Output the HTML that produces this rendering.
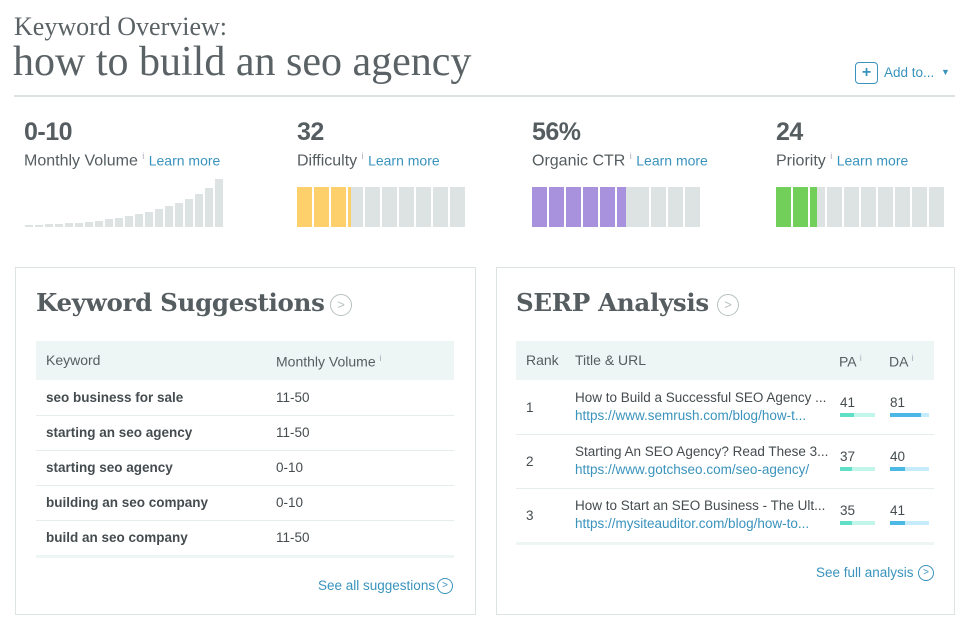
<!DOCTYPE html>
<html><head><meta charset="utf-8"><style>
*{margin:0;padding:0;box-sizing:border-box}
body{width:971px;height:628px;background:#fff;position:relative;overflow:hidden;font-family:"Liberation Sans",sans-serif;color:#555d60}
.a{position:absolute;white-space:nowrap}
.slab{font-family:"Liberation Serif",serif}
.big{font-size:25px;font-weight:bold;color:#555d60;letter-spacing:-0.5px}
.lbl{font-size:16px;color:#555d60}
.lm{font-size:14px;color:#3a93bd}
.i{font-size:9px;color:#aab}
.seg{position:absolute;top:187px;width:15px;height:40px;background:#dde3e2}
.vb{position:absolute;width:8px;background:#dde3e2;bottom:401px}
.card{position:absolute;border:1px solid #dde3e2;top:267px;height:348px}
.h2{font-family:"DejaVu Serif",serif;font-weight:bold;font-size:24.5px;color:#555d60;letter-spacing:-0.3px}
.circ{position:absolute;border:1.5px solid #b8c0c0;border-radius:50%;width:22px;height:22px;color:#b8c0c0;font-size:13px;text-align:center;line-height:19px}
.thead{position:absolute;background:#eef6f5;height:39px}
.th{font-size:14px;color:#555d60}
.td{font-size:13.5px;color:#454c4f}
.kw{font-size:13.5px;color:#454c4f;font-weight:bold}
.sep{position:absolute;height:1px;background:#e6eeed}
.link{font-size:13.5px;color:#3a93bd}
.c2{position:absolute;border:1.5px solid #3a93bd;border-radius:50%;width:16px;height:16px;color:#3a93bd;font-size:10px;text-align:center;line-height:13px}
</style></head><body>
<div class="a slab" style="left:14px;top:12px;font-size:26px;color:#5a6265">Keyword Overview:</div>
<div class="a slab" style="left:13px;top:38px;font-size:42px;color:#5a6265">how to build an seo agency</div>
<div class="a" style="left:855px;top:62px;width:23px;height:22px;border:1.5px solid #3a93bd;border-radius:4px;color:#3a93bd;font-weight:bold;font-size:16px;text-align:center;line-height:19px">+</div>
<div class="a" style="left:884px;top:65px;font-size:13.5px;color:#3a93bd">Add to...</div>
<div class="a" style="left:941px;top:67px;font-size:9px;color:#3a93bd">▼</div>
<div class="a" style="left:14px;top:95px;width:941px;height:2px;background:#dbe2e1"></div>

<div class="a big" style="left:24px;top:118px">0-10</div>
<div class="a lbl" style="left:24px;top:151px">Monthly Volume <sup class="i">i</sup> <span class="lm">Learn more</span></div>
<div class="a big" style="left:297px;top:118px">32</div>
<div class="a lbl" style="left:297px;top:151px">Difficulty <sup class="i">i</sup> <span class="lm">Learn more</span></div>
<div class="a big" style="left:532px;top:118px">56%</div>
<div class="a lbl" style="left:532px;top:151px">Organic CTR <sup class="i">i</sup> <span class="lm">Learn more</span></div>
<div class="a big" style="left:776px;top:118px">24</div>
<div class="a lbl" style="left:776px;top:151px">Priority <sup class="i">i</sup> <span class="lm">Learn more</span></div>

<div class="vb" style="left:25px;height:2px"></div><div class="vb" style="left:35px;height:2px"></div><div class="vb" style="left:45px;height:3px"></div><div class="vb" style="left:55px;height:3px"></div><div class="vb" style="left:65px;height:4px"></div><div class="vb" style="left:75px;height:4px"></div><div class="vb" style="left:85px;height:5px"></div><div class="vb" style="left:95px;height:6px"></div><div class="vb" style="left:105px;height:8px"></div><div class="vb" style="left:115px;height:9px"></div><div class="vb" style="left:125px;height:11px"></div><div class="vb" style="left:135px;height:13px"></div><div class="vb" style="left:145px;height:15px"></div><div class="vb" style="left:155px;height:18px"></div><div class="vb" style="left:165px;height:21px"></div><div class="vb" style="left:175px;height:24px"></div><div class="vb" style="left:185px;height:28px"></div><div class="vb" style="left:195px;height:33px"></div><div class="vb" style="left:205px;height:39px"></div><div class="vb" style="left:215px;height:48px"></div>

<div class="seg" style="left:297px;background:#fdd06b"></div><div class="seg" style="left:314px;background:#fdd06b"></div><div class="seg" style="left:331px;background:#fdd06b"></div><div class="seg" style="left:348px;background:linear-gradient(90deg,#fdd06b 3px,#dde3e2 3px)"></div><div class="seg" style="left:365px"></div><div class="seg" style="left:382px"></div><div class="seg" style="left:399px"></div><div class="seg" style="left:416px"></div><div class="seg" style="left:433px"></div><div class="seg" style="left:450px"></div>

<div class="seg" style="left:532px;background:#a891dd"></div><div class="seg" style="left:549px;background:#a891dd"></div><div class="seg" style="left:566px;background:#a891dd"></div><div class="seg" style="left:583px;background:#a891dd"></div><div class="seg" style="left:600px;background:#a891dd"></div><div class="seg" style="left:617px;width:17px;background:linear-gradient(90deg,#a891dd 9px,#dde3e2 9px)"></div><div class="seg" style="left:634px"></div><div class="seg" style="left:651px"></div><div class="seg" style="left:668px"></div><div class="seg" style="left:685px"></div>

<div class="seg" style="left:776px;background:#72d05a"></div><div class="seg" style="left:793px;background:#72d05a"></div><div class="seg" style="left:810px;background:linear-gradient(90deg,#72d05a 7px,#dde3e2 7px)"></div><div class="seg" style="left:827px"></div><div class="seg" style="left:844px"></div><div class="seg" style="left:861px"></div><div class="seg" style="left:878px"></div><div class="seg" style="left:895px"></div><div class="seg" style="left:912px"></div><div class="seg" style="left:929px"></div>

<div class="card" style="left:15px;width:461px"></div>
<div class="a h2" style="left:36px;top:288px">Keyword Suggestions</div>
<div class="circ" style="left:330px;top:294px">&gt;</div>
<div class="thead" style="left:36px;top:341px;width:418px"></div>
<div class="a th" style="left:46px;top:352px">Keyword</div>
<div class="a th" style="left:276px;top:353px">Monthly Volume <sup class="i">i</sup></div>
<div class="a kw" style="left:46px;top:390px">seo business for sale</div><div class="a td" style="left:276px;top:390px">11-50</div>
<div class="sep" style="left:36px;top:415px;width:418px"></div>
<div class="a kw" style="left:46px;top:425px">starting an seo agency</div><div class="a td" style="left:276px;top:425px">11-50</div>
<div class="sep" style="left:36px;top:450px;width:418px"></div>
<div class="a kw" style="left:46px;top:460px">starting seo agency</div><div class="a td" style="left:276px;top:460px">0-10</div>
<div class="sep" style="left:36px;top:485px;width:418px"></div>
<div class="a kw" style="left:46px;top:495px">building an seo company</div><div class="a td" style="left:276px;top:495px">0-10</div>
<div class="sep" style="left:36px;top:520px;width:418px"></div>
<div class="a kw" style="left:46px;top:530px">build an seo company</div><div class="a td" style="left:276px;top:530px">11-50</div>
<div class="sep" style="left:36px;top:555px;width:418px;height:3px;background:#eef6f5"></div>
<div class="a link" style="left:318px;top:578px">See all suggestions</div>
<div class="c2" style="left:437px;top:578px">&gt;</div>

<div class="card" style="left:496px;width:459px"></div>
<div class="a h2" style="left:516px;top:288px">SERP Analysis</div>
<div class="circ" style="left:717px;top:294px">&gt;</div>
<div class="thead" style="left:516px;top:341px;width:418px"></div>
<div class="a th" style="left:526px;top:352px">Rank</div>
<div class="a th" style="left:575px;top:352px">Title &amp; URL</div>
<div class="a th" style="left:839px;top:353px">PA <sup class="i">i</sup></div>
<div class="a th" style="left:889px;top:353px">DA <sup class="i">i</sup></div>

<div class="a td" style="left:526px;top:400px">1</div>
<div class="a td" style="left:575px;top:390px">How to Build a Successful SEO Agency ...</div>
<div class="a link" style="left:575px;top:408px">https://www.semrush.com/blog/how-t...</div>
<div class="a td" style="left:840px;top:395px">41</div><div class="a td" style="left:890px;top:395px">81</div>
<div class="sep" style="left:516px;top:434px;width:418px"></div>

<div class="a td" style="left:526px;top:454px">2</div>
<div class="a td" style="left:575px;top:444px">Starting An SEO Agency? Read These 3...</div>
<div class="a link" style="left:575px;top:462px">https://www.gotchseo.com/seo-agency/</div>
<div class="a td" style="left:840px;top:449px">37</div><div class="a td" style="left:890px;top:449px">40</div>
<div class="sep" style="left:516px;top:488px;width:418px"></div>

<div class="a td" style="left:526px;top:508px">3</div>
<div class="a td" style="left:575px;top:498px">How to Start an SEO Business - The Ult...</div>
<div class="a link" style="left:575px;top:516px">https://mysiteauditor.com/blog/how-to...</div>
<div class="a td" style="left:840px;top:503px">35</div><div class="a td" style="left:890px;top:503px">41</div>
<div class="sep" style="left:516px;top:542px;width:418px;height:3px;background:#eef6f5"></div>

<div class="a" style="left:840px;top:413px;width:35px;height:4px;background:linear-gradient(90deg,#5fe0c6 14px,#c3f6ea 14px)"></div>
<div class="a" style="left:890px;top:413px;width:39px;height:4px;background:linear-gradient(90deg,#4bb8e6 31px,#c6ecfb 31px)"></div>
<div class="a" style="left:840px;top:467px;width:35px;height:4px;background:linear-gradient(90deg,#5fe0c6 12px,#c3f6ea 12px)"></div>
<div class="a" style="left:890px;top:467px;width:39px;height:4px;background:linear-gradient(90deg,#4bb8e6 15px,#c6ecfb 15px)"></div>
<div class="a" style="left:840px;top:521px;width:35px;height:4px;background:linear-gradient(90deg,#5fe0c6 12px,#c3f6ea 12px)"></div>
<div class="a" style="left:890px;top:521px;width:39px;height:4px;background:linear-gradient(90deg,#4bb8e6 15px,#c6ecfb 15px)"></div>

<div class="a link" style="left:816px;top:565px">See full analysis</div>
<div class="c2" style="left:918px;top:565px">&gt;</div>
</body></html>
